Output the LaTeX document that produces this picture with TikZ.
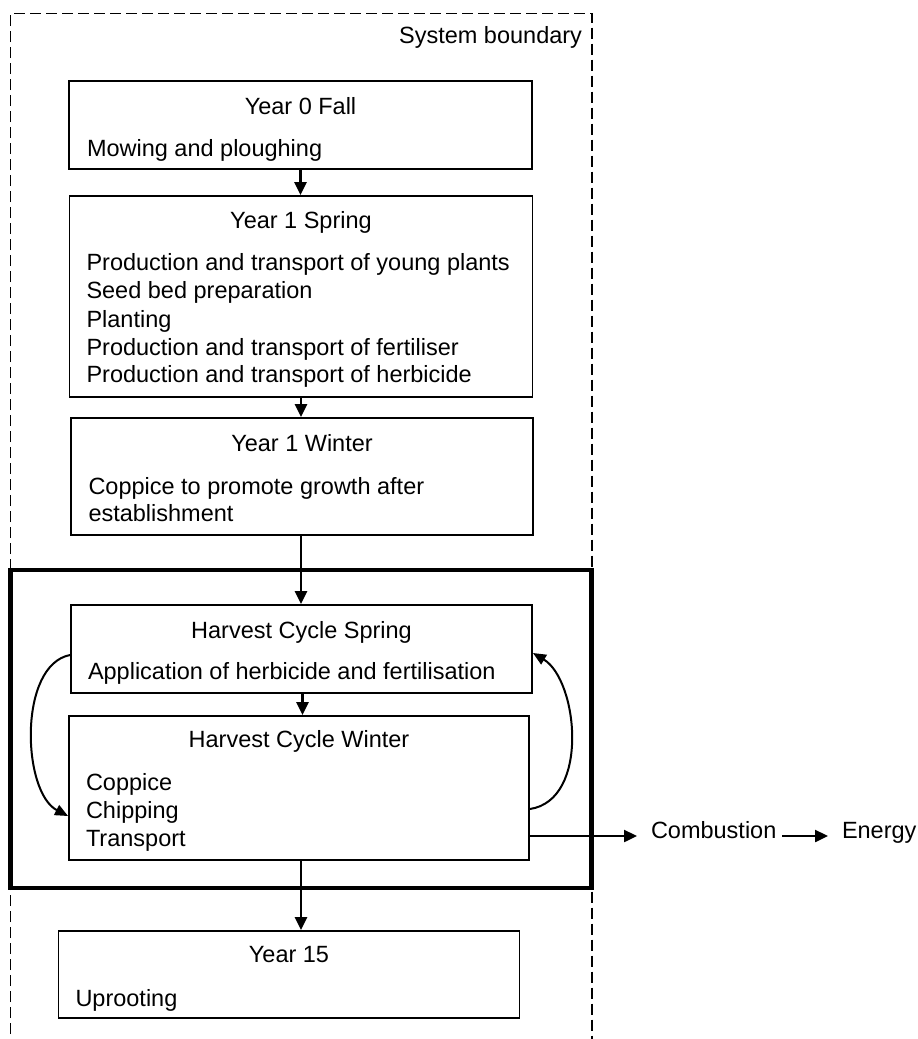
\documentclass[tikz,border=0pt]{standalone}
\usepackage{fontspec}
\setmainfont{Liberation Sans}
\usetikzlibrary{arrows.meta}
\begin{document}
\begin{tikzpicture}[x=1pt,y=-1pt,
  txt/.style={font=\fontsize{23.5}{28}\selectfont, inner sep=0pt, outer sep=0pt},
  box/.style={draw, line width=1.9pt, rectangle, inner sep=0pt},
  arr/.style={line width=2.4pt, -{Triangle[length=13pt,width=12pt]}},
  curv/.style={line width=2pt, -{Triangle[length=13pt,width=11pt]}}
]
\useasboundingbox (0,0) rectangle (918,1039);
\fill[white] (0,0) rectangle (918,1039);
% system boundary
\draw[line width=1.7pt, dash pattern=on 11pt off 5pt] (10.5,1050) -- (10.5,13.5) -- (592,13.5) -- (592,1050);
\node[txt, anchor=base east] (sysb) at (582,43) {System boundary};
% harvest frame
\node[draw, line width=4.4pt, minimum width=581pt, minimum height=318pt, inner sep=0pt] (frame) at (301,729) {};
% boxes
\node[box, minimum width=463pt, minimum height=88pt] (b1) at (300.5,125) {};
\node[box, minimum width=463pt, minimum height=201pt] (b2) at (301,296.5) {};
\node[box, minimum width=462pt, minimum height=117pt] (b3) at (302,476.5) {};
\node[box, minimum width=461pt, minimum height=88pt] (spring) at (301.5,649) {};
\node[box, minimum width=460pt, minimum height=144pt] (winter) at (299,788) {};
\node[box, minimum width=461pt, minimum height=87pt] (y15) at (289,974.5) {};
% titles
\node[txt, anchor=base] (t1) at (300.5,114) {Year 0 Fall};
\node[txt, anchor=base] (t2) at (301,228) {Year 1 Spring};
\node[txt, anchor=base] (t3) at (302,451) {Year 1 Winter};
\node[txt, anchor=base] (t4) at (301.5,638) {Harvest Cycle Spring};
\node[txt, anchor=base] (t5) at (299,747) {Harvest Cycle Winter};
\node[txt, anchor=base] (t6) at (289,962) {Year 15};
% contents
\node[txt, anchor=base west] (m1) at (87,156) {Mowing and ploughing};
\node[txt, anchor=base west] (p1) at (86.5,270) {Production and transport of young plants};
\node[txt, anchor=base west] (p2) at (86.5,298) {Seed bed preparation};
\node[txt, anchor=base west] (p3) at (86.5,327) {Planting};
\node[txt, anchor=base west] (p4) at (86.5,355) {Production and transport of fertiliser};
\node[txt, anchor=base west] (p5) at (86.5,382) {Production and transport of herbicide};
\node[txt, anchor=base west] (w1) at (88.5,494) {Coppice to promote growth after};
\node[txt, anchor=base west] (w2) at (88.5,521) {establishment};
\node[txt, anchor=base west] (s1) at (88,679) {Application of herbicide and fertilisation};
\node[txt, anchor=base west] (c1) at (86,790) {Coppice};
\node[txt, anchor=base west] (c2) at (86,818) {Chipping};
\node[txt, anchor=base west] (c3) at (86,846) {Transport};
\node[txt, anchor=base west] (u1) at (75.5,1006) {Uprooting};
% outputs
\node[txt, anchor=mid west, inner xsep=6pt] (comb) at (645,836) {Combustion};
\node[txt, anchor=mid west, inner xsep=14pt] (energy) at (828,836) {Energy};
% arrows
\draw[arr] (b1.south) -- (b1.south |- b2.north);
\draw[arr] (b2.south) -- (b2.south |- b3.north);
\draw[arr] ([xshift=-1pt]b3.south) -- ([xshift=-1pt]b3.south |- spring.north);
\draw[arr] ([xshift=1pt]spring.south) -- ([xshift=1pt]spring.south |- winter.north);
\draw[arr] ([xshift=2pt]winter.south) -- ([xshift=2pt]winter.south |- y15.north);
\draw[arr, shorten >=8pt] (winter.east |- comb.mid west) -- (comb.mid west);
\draw[arr] (comb.mid east) -- (energy.mid west);
% loop arrows
\coordinate (ls) at (spring.west |- 0,655);
\coordinate (le) at (winter.west |- 0,816);
\coordinate (rs) at (winter.east |- 0,809);
\coordinate (re) at (spring.east |- 0,653);
\draw[curv] (ls) .. controls (18,665) and (22,792) .. (le);
\draw[curv] (rs) .. controls (590,800) and (578,680) .. (re);
\end{tikzpicture}
\end{document}
